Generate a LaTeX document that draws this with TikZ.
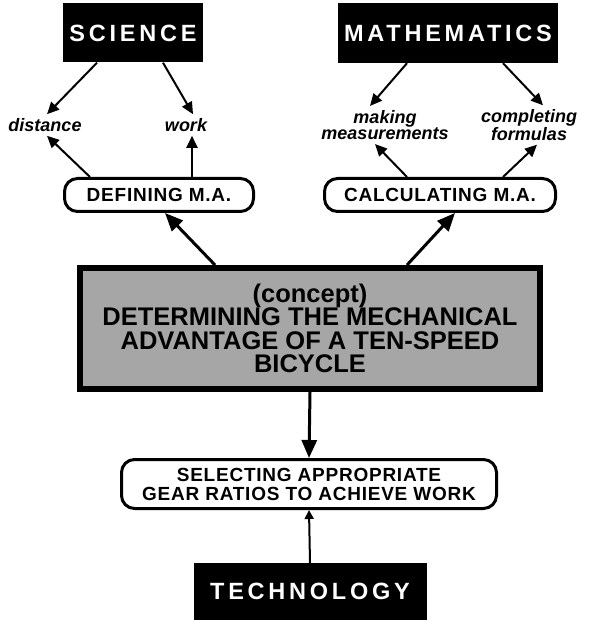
\documentclass[tikz,border=0pt]{standalone}
\usepackage{fontspec}
\setmainfont{Liberation Sans}
\usetikzlibrary{arrows.meta}

\begin{document}
\begin{tikzpicture}[x=1pt,y=-1pt,
		subject/.style={fill=black,text=white,inner sep=0pt,
			font=\fontsize{23.5}{26}\selectfont\bfseries\addfontfeature{LetterSpace=16}},
		skill/.style={draw,line width=3pt,rounded corners=13pt,inner sep=0pt,align=center,
			font=\fontsize{19}{19}\selectfont\bfseries\addfontfeature{LetterSpace=4}},
		concept/.style={draw,line width=6pt,fill=black!35,inner sep=0pt,align=center,
			font=\fontsize{25.5}{23.5}\selectfont\bfseries},
		idea/.style={inner sep=4pt,align=center,
			font=\fontsize{18}{15}\selectfont\bfseries\itshape},
		thin/.style={line width=2pt,-{Triangle[length=12pt,width=11pt]}},
		thick/.style={line width=3pt,-{Triangle[length=18pt,width=15pt]}}]
	\useasboundingbox (0,0) rectangle (590,620);
	% subjects
	\node[subject,minimum width=140,minimum height=59] (sci) at (133,33) {SCIENCE};
	\node[subject,minimum width=220,minimum height=60] (math) at (448,33) {MATHEMATICS};
	\node[subject,minimum width=233,minimum height=57] (tech) at (310,591.5) {TECHNOLOGY};
	% outcomes
	\node[idea] (dist) at (45,125) {distance};
	\node[idea] (work) at (186,125) {work};
	\node[idea] (meas) at (385,125) {making\\measurements};
	\node[idea] (form) at (529,125) {completing\\formulas};
	% skills
	\node[skill,minimum width=189,minimum height=33] (def) at (159,195) {DEFINING M.A.};
	\node[skill,minimum width=231,minimum height=33] (calc) at (440,195) {CALCULATING M.A.};
	\node[skill,minimum width=375,minimum height=49] (sel) at (309,484)
		{SELECTING APPROPRIATE\\GEAR RATIOS TO ACHIEVE WORK};
	% concept
	\node[concept,minimum width=460,minimum height=121] (cent) at (310,328.5)
		{(concept)\\DETERMINING THE MECHANICAL\\ADVANTAGE OF A TEN-SPEED\\BICYCLE};
	% arrows
	\draw[thin] ([xshift=-36pt]sci.south) -- ([xshift=2pt]dist.north);
	\draw[thin] ([xshift=30pt]sci.south) -- ([xshift=7pt]work.north);
	\draw[thin] ([xshift=-69pt]def.north) -- ([xshift=2pt]dist.south);
	\draw[thin] ([xshift=33pt]def.north) -- ([xshift=6pt]work.south);
	\draw[thin] ([xshift=-41pt]math.south) -- ([xshift=-15pt]meas.north);
	\draw[thin] ([xshift=55pt]math.south) -- ([xshift=14pt]form.north);
	\draw[thin] ([xshift=-33pt]calc.north) -- ([xshift=-10pt]meas.south);
	\draw[thin] ([xshift=63pt]calc.north) -- ([xshift=8pt]form.south);
	\draw[thick] ([xshift=-95pt]cent.north) -- ([xshift=6pt]def.south);
	\draw[thick] ([xshift=97pt]cent.north) -- ([xshift=15pt]calc.south);
	\draw[thick] (cent.south) -- (sel.north);
	\draw[line width=2pt,-{Triangle[length=9pt,width=9pt]}] (tech.north) -- (sel.south);
\end{tikzpicture}
\end{document}
